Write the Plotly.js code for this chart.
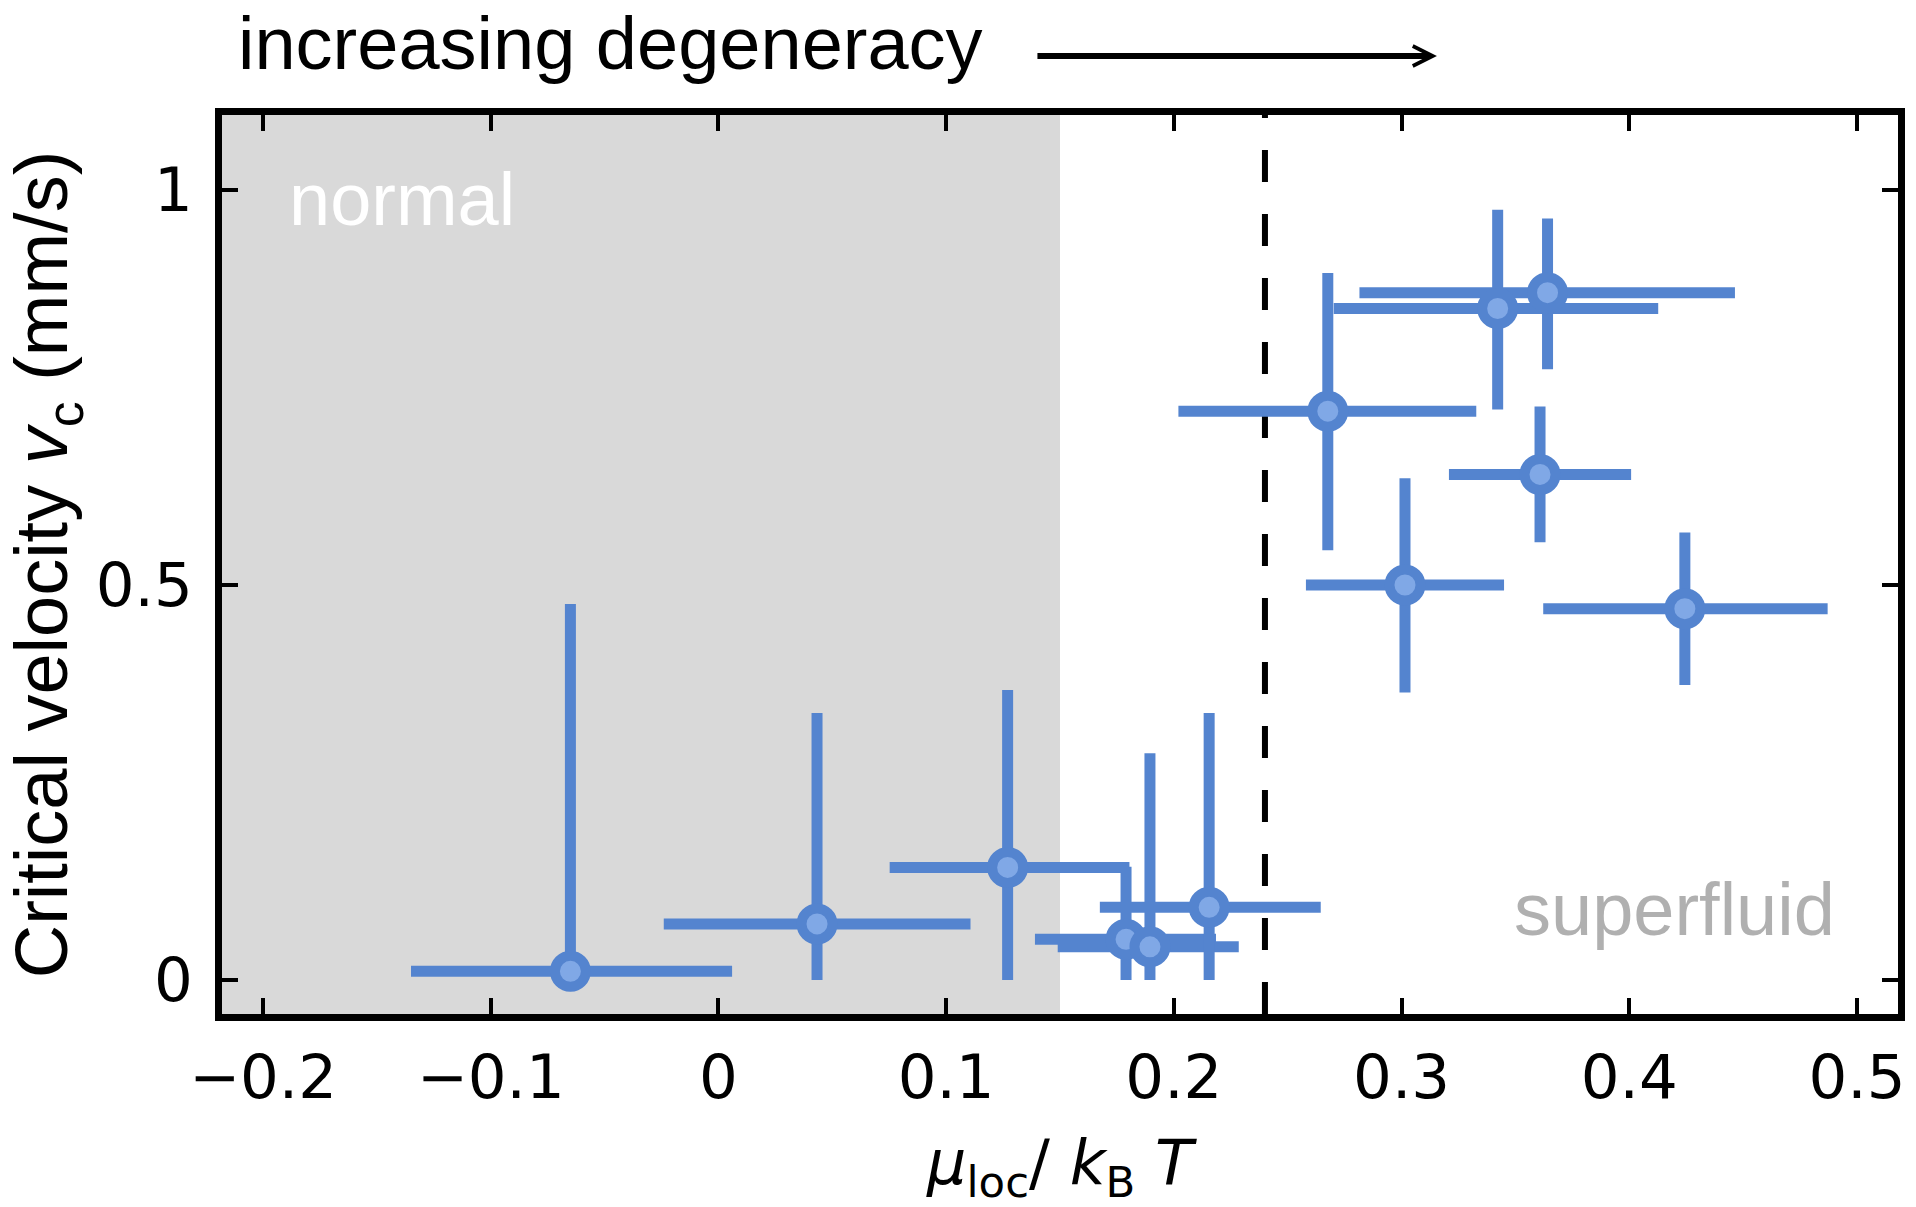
<!DOCTYPE html>
<html>
<head>
<meta charset="utf-8">
<script src="https://cdn.plot.ly/plotly-3.0.1.min.js"></script>
<style>html,body{margin:0;padding:0;background:#fff;}#chart{width:1916px;height:1207px;}</style>
</head>
<body>
<div id="chart"></div>
<script>
// data
const muLoc      = [-0.065, 0.0433, 0.127, 0.179, 0.1895, 0.2155, 0.2676, 0.3422, 0.3641, 0.3608, 0.3015, 0.4244];
const vCrit      = [0.011, 0.071, 0.1425, 0.0515, 0.042, 0.092, 0.720, 0.850, 0.870, 0.640, 0.500, 0.470];
const muErrPlus  = [0.071, 0.0674, 0.0535, 0.0395, 0.039, 0.049, 0.0652, 0.0705, 0.0823, 0.040, 0.0435, 0.0627];
const muErrMinus = [0.070, 0.0673, 0.0518, 0.040, 0.0405, 0.048, 0.0656, 0.072, 0.0826, 0.040, 0.0435, 0.0622];
const vErrPlus   = [0.465, 0.267, 0.2245, 0.092, 0.245, 0.246, 0.175, 0.125, 0.094, 0.086, 0.135, 0.0965];
const vErrMinus  = [0.011, 0.071, 0.1425, 0.0515, 0.042, 0.092, 0.176, 0.128, 0.097, 0.086, 0.136, 0.0965];

const xTickVals = [-0.2, -0.1, 0, 0.1, 0.2, 0.3, 0.4, 0.5];
const xTickText = ['\u22120.2', '\u22120.1', '0', '0.1', '0.2', '0.3', '0.4', '0.5'];
const yTickVals = [0, 0.5, 1];
const yTickText = ['0', '0.5', '1'];

const normalEdge = 0.15;     // end of the grey "normal" region
const criticalMu = 0.24;     // dashed line position

const blue = '#5484cf';
const blueFill = '#80a8e6';

const trace = {
  type: 'scatter',
  mode: 'markers',
  x: muLoc,
  y: vCrit,
  error_x: {type: 'data', symmetric: false, array: muErrPlus, arrayminus: muErrMinus,
            thickness: 11, width: 0, color: blue},
  error_y: {type: 'data', symmetric: false, array: vErrPlus, arrayminus: vErrMinus,
            thickness: 11, width: 0, color: blue},
  marker: {size: 31, color: blueFill, line: {color: blue, width: 10}},
  showlegend: false,
  hoverinfo: 'x+y'
};

const tickFont = {family: 'DejaVu Sans', size: 61, color: '#000'};
const textFamily = 'Liberation Sans, Arial, sans-serif';

const layout = {
  width: 1916,
  height: 1207,
  margin: {l: 222, r: 18, t: 115, b: 193, pad: 0},
  paper_bgcolor: '#fff',
  plot_bgcolor: '#fff',
  showlegend: false,
  xaxis: {
    range: [-0.218, 0.518],
    tickvals: xTickVals, ticktext: xTickText,
    ticks: 'inside', ticklen: 16, tickwidth: 4, tickcolor: '#000',
    showline: true, linewidth: 7, linecolor: '#000', mirror: 'ticks',
    showgrid: false, zeroline: false,
    tickfont: tickFont,
    ticklabelstandoff: 4,
    title: {text: '<i>μ</i><sub>loc</sub>/ <i>k</i><sub>B</sub> <i>T</i>',
            font: {family: 'DejaVu Sans', size: 62, color: '#000'}, standoff: 32}
  },
  yaxis: {
    range: [-0.043, 1.0949],
    tickvals: yTickVals, ticktext: yTickText,
    ticks: 'inside', ticklen: 16, tickwidth: 4, tickcolor: '#000',
    showline: true, linewidth: 7, linecolor: '#000', mirror: 'ticks',
    showgrid: false, zeroline: false,
    tickfont: tickFont,
    ticklabelstandoff: 10,
    title: {text: 'Critical velocity <i>v</i><sub>c</sub> (mm/s)',
            font: {family: textFamily, size: 74, color: '#000'}, standoff: 10}
  },
  shapes: [
    {type: 'rect', xref: 'x', yref: 'paper', x0: -0.218, x1: normalEdge, y0: 0, y1: 1,
     fillcolor: '#d9d9d9', line: {width: 0}, layer: 'below'},
    {type: 'line', xref: 'x', yref: 'paper', x0: criticalMu, x1: criticalMu, y0: 0, y1: 1,
     line: {color: '#000', width: 6, dash: '32px,32px'}, layer: 'below'}
  ],
  annotations: [
    {text: 'increasing degeneracy', xref: 'paper', yref: 'paper', x: 0.00835, y: 1.079,
     xanchor: 'left', yanchor: 'middle', showarrow: false,
     font: {family: textFamily, size: 74, color: '#000'}},
    {text: '', xref: 'paper', yref: 'paper', x: 0.7249, y: 1.0656,
     showarrow: true, ax: -401, ay: 0, arrowhead: 5, arrowwidth: 6, arrowsize: 0.65,
     arrowcolor: '#000', standoff: 0},
    {text: 'normal', xref: 'paper', yref: 'paper', x: 0.0388, y: 0.9062,
     xanchor: 'left', yanchor: 'middle', showarrow: false,
     font: {family: textFamily, size: 74, color: '#ffffff'}},
    {text: 'superfluid', xref: 'paper', yref: 'paper', x: 0.7697, y: 0.1165,
     xanchor: 'left', yanchor: 'middle', showarrow: false,
     font: {family: textFamily, size: 74, color: '#b0b0b0'}}
  ]
};

Plotly.newPlot('chart', [trace], layout, {displayModeBar: false, staticPlot: true});
</script>
</body>
</html>
